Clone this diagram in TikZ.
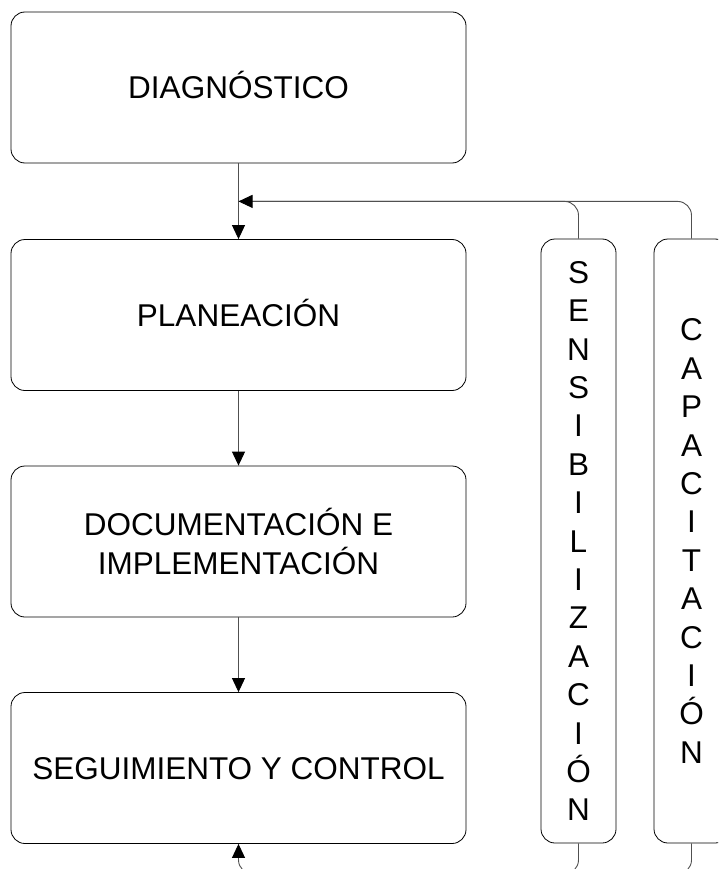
\documentclass[tikz,border=0pt]{standalone}
\usepackage{fontspec}
\setmainfont{Liberation Sans}
\usetikzlibrary{arrows.meta}
\definecolor{linkgray}{RGB}{80,80,80}
\begin{document}
\begin{tikzpicture}[x=1pt,y=-1pt,
  stage/.style={draw=black, line width=0.8pt, rounded corners=14pt,
    minimum width=455pt, minimum height=151pt, inner sep=0pt, align=center,
    font=\fontsize{31.5}{38.4}\selectfont},
  oneline/.style={text height=22.6pt, text depth=0pt},
  column/.style={draw=black, line width=0.8pt, rounded corners=14pt,
    minimum width=75pt, minimum height=604pt, inner sep=0pt, align=center,
    font=\fontsize{31.5}{38.4}\selectfont},
  link/.style={draw=linkgray, line width=0.9pt},
  flow/.style={link, -{Triangle[length=14pt,width=13pt,fill=black,color=black]}},
]
\useasboundingbox (0,0) rectangle (718,869);
\fill[white] (0,0) rectangle (718,869);
\clip (0,0) rectangle (718,869);

% main process stages
\node[stage, oneline] (diag) at (238.5,87.5)  {DIAGNÓSTICO};
\node[stage, oneline] (plan) at (238.5,315)   {PLANEACIÓN};
\node[stage] (doc)  at (238.5,541.5) {DOCUMENTACIÓN E\\IMPLEMENTACIÓN};
\node[stage, oneline] (seg)  at (238.5,768)   {SEGUIMIENTO Y CONTROL};

% transversal activities
\node[column] (sens) at (578.5,541) {S\\E\\N\\S\\I\\B\\I\\L\\I\\Z\\A\\C\\I\\Ó\\N};
\node[column] (cap)  at (691.5,541) {C\\A\\P\\A\\C\\I\\T\\A\\C\\I\\Ó\\N};

% return lines above and below the stages
\path (diag.south) ++(0,38) coordinate (topline);
\path (seg.south) ++(0,30) coordinate (botline);

% sequence between stages
\draw[flow] (diag.south) -- (plan.north);
\draw[flow] (plan.south) -- (doc.north);
\draw[flow] (doc.south) -- (seg.north);

% feedback from the transversal activities
\draw[link, rounded corners=14pt] (sens.north) |- (topline);
\draw[flow, rounded corners=14pt] (cap.north) |- (topline);
\draw[link, rounded corners=14pt] (sens.south) |- (botline);
\draw[flow, rounded corners=14pt] (cap.south) |- (botline) -- (seg.south);
\end{tikzpicture}
\end{document}
